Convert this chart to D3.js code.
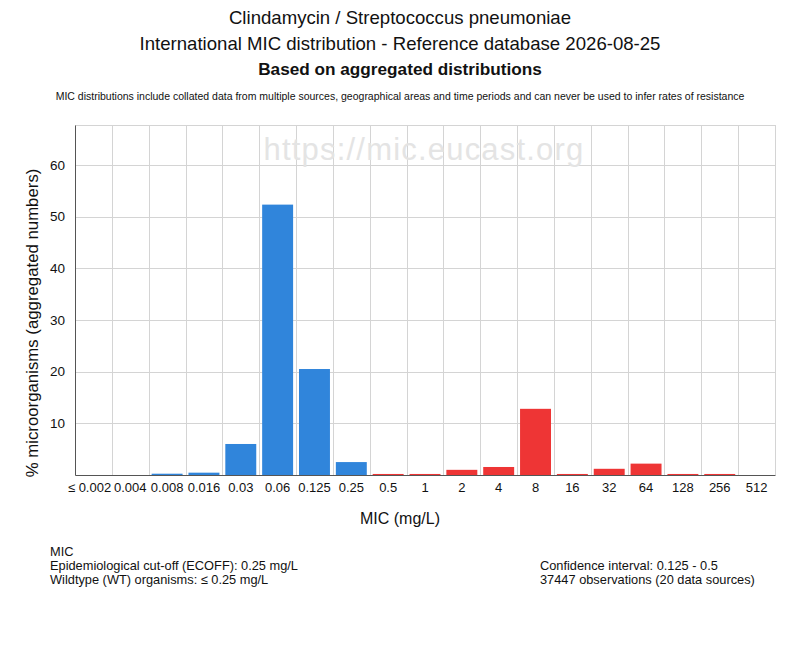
<!DOCTYPE html>
<html>
<head>
<meta charset="utf-8">
<script src="https://cdn.jsdelivr.net/npm/d3@7"></script>
<style>
  body { margin: 0; background: #fff; }
  text { font-family: "Liberation Sans", Arial, sans-serif; fill: #111; }
</style>
</head>
<body>
<div id="chart"></div>
<script>
// MIC classes (mg/L) and % of organisms
const micLabels = ["≤ 0.002", "0.004", "0.008", "0.016", "0.03", "0.06", "0.125", "0.25", "0.5",
  "1", "2", "4", "8", "16", "32", "64", "128", "256", "512"];
const percents = [0, 0, 0.25, 0.45, 6.0, 52.3, 20.5, 2.5, 0.2,
  0.2, 1.0, 1.55, 12.8, 0.2, 1.2, 2.2, 0.2, 0.2, 0];
const ecoffIndex = 7; // 0.25 mg/L, bars up to here are wildtype
const yTicks = [10, 20, 30, 40, 50, 60];

const titleLines = [
  "Clindamycin / Streptococcus pneumoniae",
  "International MIC distribution - Reference database 2026-08-25"
];
const boldTitle = "Based on aggregated distributions";
const disclaimer = "MIC distributions include collated data from multiple sources, geographical areas and time periods and can never be used to infer rates of resistance";
const leftNotes = ["MIC", "Epidemiological cut-off (ECOFF): 0.25 mg/L", "Wildtype (WT) organisms: ≤ 0.25 mg/L"];
const rightNotes = ["Confidence interval: 0.125 - 0.5", "37447 observations (20 data sources)"];

const width = 800, height = 650;
const margin = { top: 125, right: 25, bottom: 175, left: 75 };
const blue = "#3085db", red = "#ee3535", gridColor = "#d4d4d4";

const svg = d3.select("#chart").append("svg")
  .attr("width", width)
  .attr("height", height);

const x = d3.scaleBand()
  .domain(micLabels)
  .range([margin.left, width - margin.right])
  .paddingInner(0.16)
  .paddingOuter(0.08);

const y = d3.scaleLinear()
  .domain([0, 67.7])
  .range([height - margin.bottom, margin.top]);

// grid: vertical lines on band boundaries, horizontal on ticks + top border
const step = x.step();
const x0 = margin.left;
const grid = svg.append("g").attr("stroke", gridColor).attr("stroke-width", 1);
d3.range(1, micLabels.length + 1).forEach(i => {
  const gx = Math.round(x0 + i * step) + 0.5;
  grid.append("line")
    .attr("x1", gx).attr("x2", gx)
    .attr("y1", y.range()[1]).attr("y2", y.range()[0]);
});
yTicks.concat([y.domain()[1]]).forEach(t => {
  const gy = Math.round(y(t)) + 0.5;
  grid.append("line")
    .attr("x1", margin.left).attr("x2", width - margin.right)
    .attr("y1", gy).attr("y2", gy);
});

// watermark
svg.append("text")
  .attr("x", 424).attr("y", 160)
  .attr("text-anchor", "middle")
  .style("font-size", "31px")
  .style("letter-spacing", "1.2px")
  .style("fill", "#e4e4e4")
  .text("https://mic.eucast.org");

// bars
svg.append("g")
  .selectAll("rect")
  .data(percents)
  .join("rect")
  .attr("x", (d, i) => x(micLabels[i]))
  .attr("width", x.bandwidth())
  .attr("y", d => y(d))
  .attr("height", d => y(0) - y(d))
  .attr("fill", (d, i) => i <= ecoffIndex ? blue : red);

// axes
const xAxis = svg.append("g")
  .attr("transform", `translate(0,${y(0)})`)
  .call(d3.axisBottom(x).tickSize(0).tickPadding(8));
xAxis.select(".domain").attr("stroke", "#555");
xAxis.selectAll("text").style("font-size", "13px").style("fill", "#111");
xAxis.select(".tick text").attr("dx", "-0.3em");

const yAxis = svg.append("g")
  .attr("transform", `translate(${margin.left},0)`)
  .call(d3.axisLeft(y).tickValues(yTicks).tickSize(0).tickPadding(10));
yAxis.select(".domain").attr("stroke", "#555");
yAxis.selectAll("text").style("font-size", "13.5px").style("fill", "#111");

// axis titles
svg.append("text")
  .attr("x", 400).attr("y", 524)
  .attr("text-anchor", "middle")
  .style("font-size", "16px")
  .text("MIC (mg/L)");

svg.append("text")
  .attr("transform", `translate(38,323) rotate(-90)`)
  .attr("text-anchor", "middle")
  .style("font-size", "16.8px")
  .text("% microorganisms (aggregated numbers)");

// titles
titleLines.forEach((t, i) => {
  svg.append("text")
    .attr("x", 400).attr("y", 24 + i * 26)
    .attr("text-anchor", "middle")
    .style("font-size", "18.6px")
    .text(t);
});
svg.append("text")
  .attr("x", 400).attr("y", 75)
  .attr("text-anchor", "middle")
  .style("font-size", "17.2px")
  .style("font-weight", "bold")
  .text(boldTitle);
svg.append("text")
  .attr("x", 400).attr("y", 100)
  .attr("text-anchor", "middle")
  .style("font-size", "10.5px")
  .text(disclaimer);

// notes under the chart
leftNotes.forEach((t, i) => {
  svg.append("text")
    .attr("x", 50).attr("y", 556 + i * 14)
    .style("font-size", "12.8px")
    .text(t);
});
rightNotes.forEach((t, i) => {
  svg.append("text")
    .attr("x", 540).attr("y", 570 + i * 14)
    .style("font-size", "12.8px")
    .text(t);
});
</script>
</body>
</html>
